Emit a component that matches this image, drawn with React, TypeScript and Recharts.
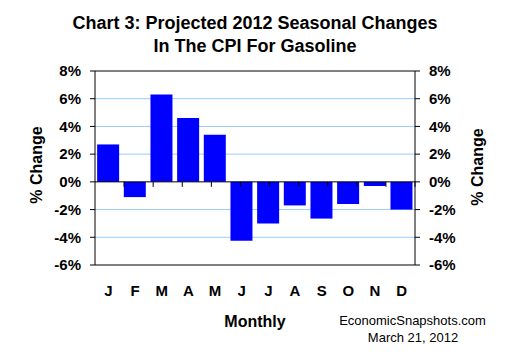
import { ComposedChart, Bar, Line, XAxis, YAxis, CartesianGrid, ReferenceLine } from "recharts";

const months = ["J", "F", "M", "A", "M", "J", "J", "A", "S", "O", "N", "D"];
const changes = [2.7, -1.1, 6.3, 4.6, 3.4, -4.25, -3.0, -1.7, -2.65, -1.6, -0.3, -2.0];
const yTicks = [-6, -4, -2, 0, 2, 4, 6, 8];
const gridTicks = [-4, -2, 2, 4, 6];
const boundaries = [1, 2, 3, 4, 5, 6, 7, 8, 9, 10, 11];

const data = months.map((m, i) => ({ key: `${m}${i}`, month: m, value: changes[i] }));

const FONT = "Arial, 'Liberation Sans', sans-serif";
const tickStyle = { fontFamily: FONT, fontSize: 15, fontWeight: "bold", fill: "#000" };
const fmtPct = (v: number) => `${v}%`;

export default function App() {
  return (
    <div style={{ position: "absolute", left: 0, top: 0, width: 510, height: 360, background: "#fff" }}>
      <ComposedChart
        width={510}
        height={360}
        data={data}
        margin={{ top: 71, right: 35, bottom: 65, left: 35 }}
        barCategoryGap="8%"
      >
        <CartesianGrid
          vertical={false}
          stroke="#99ccff"
          horizontalValues={gridTicks}
          yAxisId="left"
        />
        <XAxis
          dataKey="key"
          tickFormatter={(_v: string, i: number) => months[i]}
          axisLine={{ stroke: "#000" }}
          tickLine={false}
          tickSize={0}
          tickMargin={20}
          height={30}
          interval={0}
          tick={tickStyle}
        />
        <XAxis xAxisId="n" type="number" domain={[0, 12]} hide />
        <YAxis
          yAxisId="left"
          domain={[-6, 8]}
          ticks={yTicks}
          tickFormatter={fmtPct}
          width={60}
          axisLine={{ stroke: "#000" }}
          tickLine={{ stroke: "#000" }}
          tickSize={5}
          tickMargin={9}
          tick={tickStyle}
          interval={0}
        />
        <YAxis
          yAxisId="right"
          orientation="right"
          domain={[-6, 8]}
          ticks={yTicks}
          tickFormatter={fmtPct}
          width={60}
          axisLine={{ stroke: "#000" }}
          tickLine={{ stroke: "#000" }}
          tickSize={5}
          tickMargin={9}
          tick={tickStyle}
          interval={0}
        />
        <Bar dataKey="value" yAxisId="left" fill="#0000ff" isAnimationActive={false} />
        <Line
          dataKey="value"
          yAxisId="right"
          stroke="none"
          strokeOpacity={0}
          dot={false}
          activeDot={false}
          legendType="none"
          isAnimationActive={false}
        />
        <ReferenceLine yAxisId="left" y={8} stroke="#000" />
        <ReferenceLine yAxisId="left" y={0} stroke="#000" />
        {boundaries.map((b) => (
          <ReferenceLine
            key={b}
            yAxisId="left"
            xAxisId="n"
            segment={[{ x: b, y: 0 }, { x: b, y: -0.36 }]}
            stroke="#000"
          />
        ))}
        <text x={255} y={28.5} textAnchor="middle" fontFamily={FONT} fontSize={18} fontWeight="bold">
          Chart 3: Projected 2012 Seasonal Changes
        </text>
        <text x={255} y={51.7} textAnchor="middle" fontFamily={FONT} fontSize={18} fontWeight="bold">
          In The CPI For Gasoline
        </text>
        <text x={255} y={326.7} textAnchor="middle" fontFamily={FONT} fontSize={16} fontWeight="bold">
          Monthly
        </text>
        <text x={412.5} y={325} textAnchor="middle" fontFamily={FONT} fontSize={13}>
          EconomicSnapshots.com
        </text>
        <text x={413} y={341.7} textAnchor="middle" fontFamily={FONT} fontSize={13}>
          March 21, 2012
        </text>
        <text
          x={42}
          y={165}
          transform="rotate(-90 42 165)"
          textAnchor="middle"
          fontFamily={FONT}
          fontSize={16}
          fontWeight="bold"
        >
          % Change
        </text>
        <text
          x={483}
          y={167}
          transform="rotate(-90 483 167)"
          textAnchor="middle"
          fontFamily={FONT}
          fontSize={16}
          fontWeight="bold"
        >
          % Change
        </text>
      </ComposedChart>
    </div>
  );
}
